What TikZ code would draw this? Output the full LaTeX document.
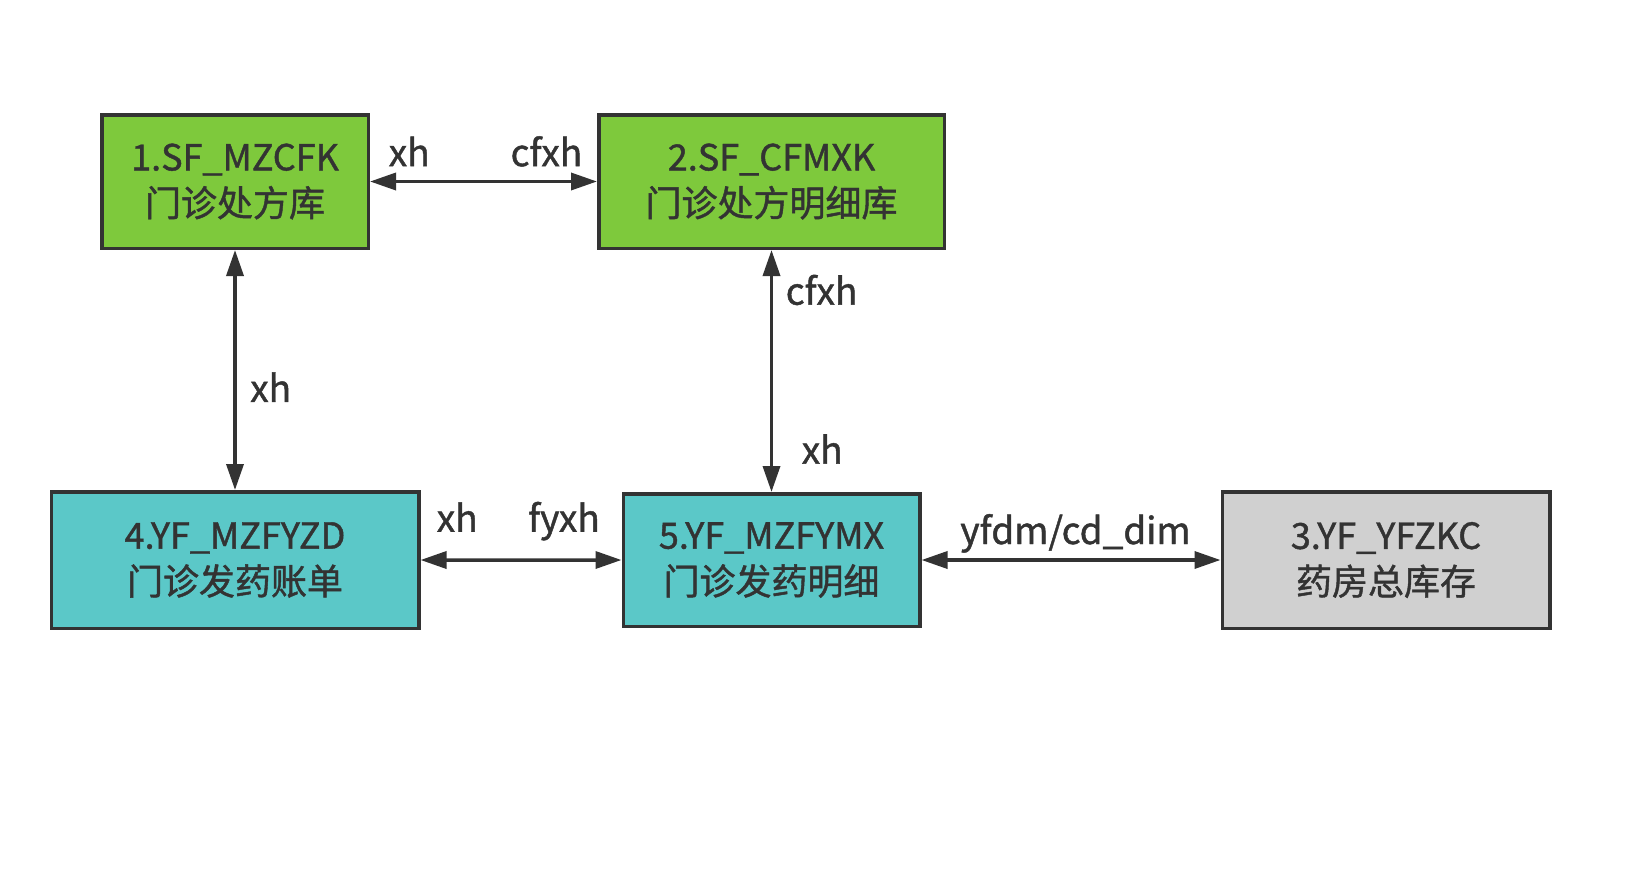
\documentclass[tikz,border=0pt]{standalone}
\usepackage{fontspec}
\setmainfont{Noto Sans CJK SC}[FakeBold=1.2]
\usepackage{tikz}
\usetikzlibrary{arrows.meta,positioning}

\definecolor{boxgreen}{RGB}{126,201,60}
\definecolor{boxteal}{RGB}{91,200,200}
\definecolor{boxgray}{RGB}{208,208,208}
\definecolor{ink}{RGB}{51,51,51}

\begin{document}
\begin{tikzpicture}[
  every node/.style={font=\fontsize{36bp}{46bp}\selectfont, text=ink},
  box/.style={draw=ink, line width=3.5bp, align=center, inner sep=0pt},
  lbl/.style={inner sep=0pt, text depth=0pt, font=\fontsize{37bp}{46bp}\selectfont},
  >={Triangle[length=26bp,width=17bp]}, line width=3.5bp, draw=ink
]
\useasboundingbox (0,0) rectangle (1630bp,-892bp);

\node[box, fill=boxgreen, minimum width=266.5bp, minimum height=133.5bp] (b1) at (235bp,-181.5bp) {1.SF\_MZCFK\\门诊处方库};
\node[box, fill=boxgreen, minimum width=345.5bp, minimum height=133.5bp, right=227bp of b1] (b2) {2.SF\_CFMXK\\门诊处方明细库};

\node[box, fill=boxteal, minimum width=367.5bp, minimum height=136.5bp, below=240bp of b1] (b4) {4.YF\_MZFYZD\\门诊发药账单};
\node[box, fill=boxteal, minimum width=296.5bp, minimum height=132.5bp, below=242bp of b2] (b5) {5.YF\_MZFYMX\\门诊发药明细};
\node[box, fill=boxgray, minimum width=327.5bp, minimum height=136.5bp, right=299bp of b5] (b3) {3.YF\_YFZKC\\药房总库存};

\draw[<->, ink] (b1) -- (b2)
  node[lbl, pos=0, above right=13.6bp and 17bp] (l12a) {xh}
  node[lbl, pos=1, above left=13.6bp and 13bp] (l12b) {cfxh};
\draw[<->, ink] (b1) -- (b4)
  node[lbl, pos=0.633, anchor=base west, xshift=13.5bp] (l14) {xh};
\draw[<->, ink] (b2) -- (b5)
  node[lbl, pos=0.226, anchor=base west, xshift=12.5bp] (l25a) {cfxh}
  node[lbl, pos=0.883, anchor=base west, xshift=28.5bp] (l25b) {xh};
\draw[<->, ink] (b4) -- (b5)
  node[lbl, pos=0, above right=26.5bp and 14.5bp] (l45a) {xh}
  node[lbl, pos=1, above left=26.5bp and 20bp] (l45b) {fyxh};
\draw[<->, ink] (b5) -- (b3)
  node[lbl, pos=0.515, anchor=base, yshift=16bp] (l53) {yfdm/cd\_dim};
\end{tikzpicture}
\end{document}
